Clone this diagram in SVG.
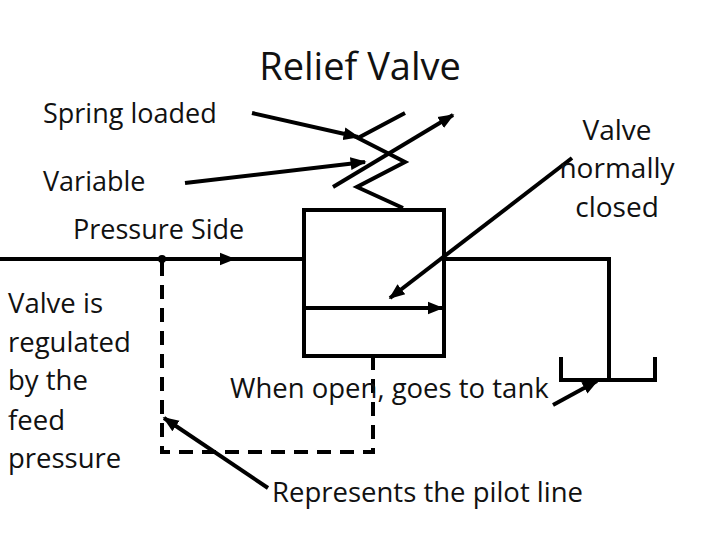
<svg xmlns="http://www.w3.org/2000/svg" width="720" height="540" viewBox="0 0 720 540">
<defs>
<marker id="ah" viewBox="0 0 10 10" refX="9" refY="5" markerWidth="4" markerHeight="4" orient="auto" markerUnits="strokeWidth"><path d="M0,1 L10,5 L0,9 z" fill="#000"/></marker>
<style>
.l{stroke:#000;stroke-width:4;fill:none}
.a{stroke:#000;stroke-width:4;fill:none;marker-end:url(#ah)}
.d{stroke:#000;stroke-width:4;fill:none;stroke-dasharray:14,9}
text{font-family:"Open Sans","Liberation Sans",Arial,sans-serif;fill:#111}
</style>
</defs>
<rect width="720" height="540" fill="#fff"/>
<g id="valve">
<rect class="l" x="304" y="210" width="140" height="146"/>
<line class="a" x1="305" y1="308" x2="442" y2="308"/>
<polyline class="l" points="403,208 357,187 405,162 358,138 405,113"/>
</g>
<g id="lines">
<line class="l" x1="0" y1="259" x2="304" y2="259"/>
<line class="a" x1="200" y1="259" x2="234" y2="259"/>
<circle cx="162" cy="259" r="4" fill="#000"/>
<polyline class="l" points="444,259 609,259 609,380"/>
<polyline class="l" points="561,357 561,380 655,380 655,357"/>
<polyline class="d" points="162,262 162,452 373,452 373,356"/>
</g>
<g id="connectors">
<line class="a" x1="333" y1="187" x2="453" y2="115"/>
<line class="a" x1="252" y1="113" x2="358" y2="137"/>
<line class="a" x1="185" y1="183" x2="365" y2="162"/>
<line class="a" x1="572" y1="158" x2="390" y2="298"/>
<line class="a" x1="268" y1="488" x2="164" y2="418"/>
<line class="a" x1="553" y1="405" x2="597" y2="381"/>
</g>
<g id="labels">
<text x="360" y="80" font-size="38" text-anchor="middle">Relief Valve</text>
<text x="43" y="123" font-size="27">Spring loaded</text>
<text x="43" y="191" font-size="27">Variable</text>
<text x="73" y="239" font-size="27">Pressure Side</text>
<g font-size="27.5">
<text x="8" y="313">Valve is</text>
<text x="8" y="352">regulated</text>
<text x="8" y="390">by the</text>
<text x="8" y="430">feed</text>
<text x="8" y="468">pressure</text>
</g>
<g font-size="28" text-anchor="middle">
<text x="617" y="140">Valve</text>
<text x="617" y="178">normally</text>
<text x="617" y="217">closed</text>
</g>
<text x="230" y="398" font-size="27.5">When open, goes to tank</text>
<text x="272" y="502" font-size="27.5">Represents the pilot line</text>
</g>
</svg>
